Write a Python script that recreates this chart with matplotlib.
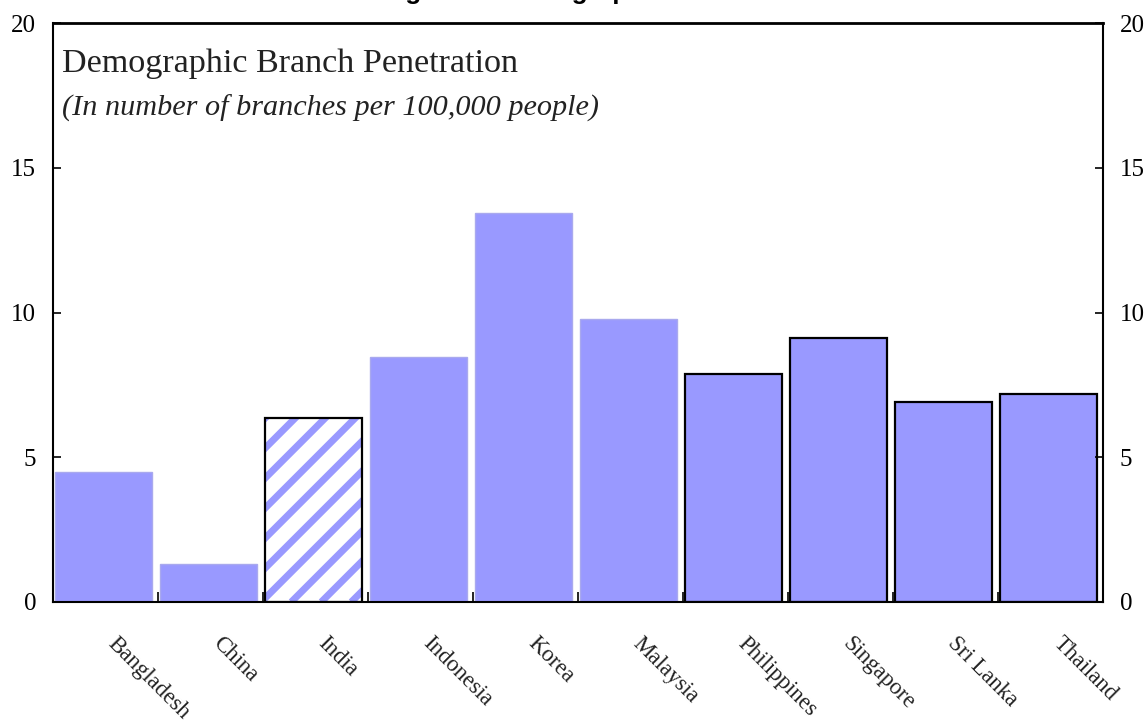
import matplotlib.pyplot as plt
import matplotlib.transforms as mtransforms
import numpy as np

countries = ["Bangladesh", "China", "India", "Indonesia", "Korea",
             "Malaysia", "Philippines", "Singapore", "Sri Lanka", "Thailand"]
branches = [4.5, 1.3, 6.35, 8.45, 13.45, 9.78, 7.88, 9.12, 6.9, 7.18]
# how each bar was drawn in the original
styles = ["plain", "plain", "hatched", "plain", "plain",
          "plain", "outlined", "outlined", "outlined", "outlined"]
yticks = [0, 5, 10, 15, 20]

fill = "#9999ff"
serif = "Liberation Serif"

fig = plt.figure(figsize=(11.45, 7.25), dpi=100)
ax = fig.add_axes([53 / 1145, 1 - 602 / 725, 1050 / 1145, 579 / 725])

x = np.arange(len(countries))
bars = []
for i, (val, st) in enumerate(zip(branches, styles)):
    if st == "plain":
        b = ax.bar(x[i] - 0.02, val, width=0.92, color=fill, edgecolor="#a9a9ee", linewidth=1)
    elif st == "outlined":
        b = ax.bar(x[i] - 0.02, val, width=0.92, color=fill, edgecolor="black", linewidth=1.6)
    else:
        b = ax.bar(x[i] - 0.02, val, width=0.92, color="white", edgecolor="black",
                   linewidth=1.6, zorder=3)
    bars.append(b[0])

ax.set_xlim(-0.5, len(countries) - 0.5)
ax.set_ylim(0, 20)

# diagonal stripes for the hatched bar, drawn in pixel space and clipped to it
for bar, st in zip(bars, styles):
    if st != "hatched":
        continue
    (px0, py0) = ax.transData.transform((bar.get_x(), 0))
    (px1, py1) = ax.transData.transform((bar.get_x() + bar.get_width(), bar.get_height()))
    h = py1 - py0
    period = 30
    inv = ax.transData.inverted()
    for k in np.arange(-h - period, px1 - px0 + period, period):
        p = inv.transform([(px0 + k, py0), (px0 + k + h + period, py0 + h + period)])
        ln, = ax.plot(p[:, 0], p[:, 1], color=fill, lw=5, solid_capstyle="butt", zorder=2.5)
        ln.set_clip_path(bar)
    bar.set_facecolor("none")

ax.set_yticks(yticks)
ax.tick_params(axis="y", direction="in", length=6, width=1.2, labelsize=18,
               left=True, right=True, labelleft=True, labelright=True)
for t in ax.yaxis.get_major_ticks():
    t.label1.set_fontfamily(serif)
    t.label2.set_fontfamily(serif)
ax.tick_params(axis="y", which="major", pad=12)

ax.set_xticks(np.arange(len(countries) + 1) - 0.5)
ax.set_xticklabels([])
ax.tick_params(axis="x", direction="in", length=7, width=1.2)

for s in ax.spines.values():
    s.set_linewidth(1.5)
ax.spines["top"].set_linewidth(2)

off = mtransforms.offset_copy(ax.get_xaxis_transform(), fig=fig, x=13, y=-31, units="dots")
for i, name in enumerate(countries):
    ax.text(x[i], 0, name, transform=off, rotation=-45, rotation_mode="anchor",
            ha="left", va="top", fontsize=16.5, family=serif, color="#222222")

ax.text(0.009, 0.915, "Demographic Branch Penetration", transform=ax.transAxes,
        fontsize=24.6, family=serif, color="#222222")
ax.text(0.009, 0.84, "(In number of branches per 100,000 people)", transform=ax.transAxes,
        fontsize=21.8, family=serif, style="italic", color="#222222")

# heading above, cut off at the top edge of the image
fig.text(382 / 1145, 1 + 1.5 / 725, "Figure 9: Demographic Branch Penetration",
         fontsize=18.7, family="Liberation Sans", weight="bold", va="baseline")

fig.savefig("out.png", dpi=100)
